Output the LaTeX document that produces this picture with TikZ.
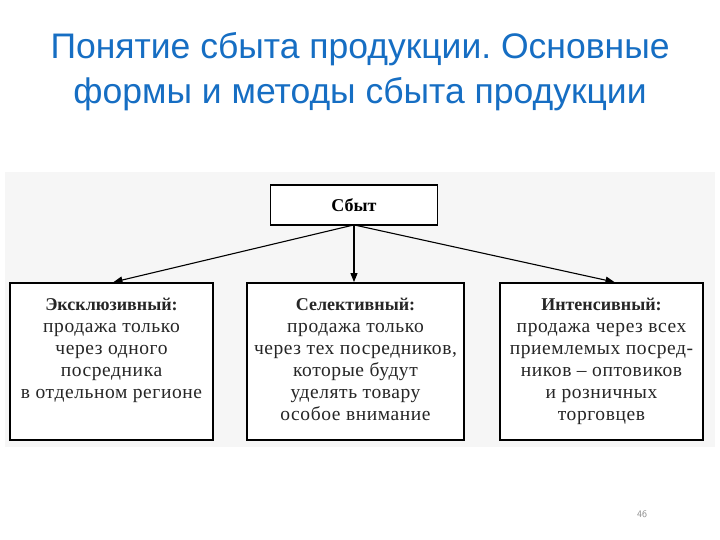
\documentclass[tikz,border=0pt]{standalone}
\usepackage{fontspec}
\setmainfont{Liberation Serif}
\newfontfamily\titlefont{Liberation Sans}
\newfontfamily\bodyfont[LetterSpace=3]{Liberation Serif}
\usetikzlibrary{arrows.meta}
\definecolor{titleblue}{RGB}{22,110,195}
\definecolor{scanbg}{RGB}{246,246,246}
\frenchspacing
\newcommand{\hd}[1]{{\rmfamily\bfseries\fontsize{18}{22}\selectfont #1}}
\tikzset{
  box/.style={draw=black, line width=1.8pt, fill=white, inner sep=0pt},
  body/.style={align=center, font=\bodyfont\fontsize{19.5}{22}\selectfont, text=black!85},
  conn/.style={line width=1.1pt, -{Triangle[length=9pt,width=7pt]}},
}
\begin{document}
\begin{tikzpicture}[x=1pt,y=-1pt]
\useasboundingbox (0,0) rectangle (720,540);
\fill[white] (0,0) rectangle (720,540);
\fill[scanbg] (5,172) rectangle (715,447);
% title
\node[text=titleblue, font=\titlefont\fontsize{35.5}{45}\selectfont, align=center] (title) at (360,72)
  {Понятие сбыта продукции. Основные\\формы и методы сбыта продукции};
% boxes
\node[box, minimum width=167pt, minimum height=40pt] (top) at (354,205) {};
\node[font=\bfseries\fontsize{18}{22}\selectfont] (toptxt) at (top.center) {Сбыт};
\node[box, minimum width=203pt, minimum height=157pt] (left) at (111.5,361.5) {};
\node[box, minimum width=217pt, minimum height=157pt] (mid) at (355.5,361.5) {};
\node[box, minimum width=203pt, minimum height=157pt] (right) at (601.5,361.5) {};
\node[body, anchor=north] (lt) at (111.5,295) {\hd{Эксклюзивный:}\\продажа только\\через одного\\посредника\\в отдельном регионе};
\node[body, anchor=north] (mt) at (355.5,295) {\hd{Селективный:}\\продажа только\\через тех посредников,\\которые будут\\уделять товару\\особое внимание};
\node[body, anchor=north] (rt) at (601.5,295) {\hd{Интенсивный:}\\продажа через всех\\приемлемых посред-\\ников – оптовиков\\и розничных\\торговцев};
% connectors
\coordinate (o) at ([yshift=1pt]top.south);
\draw[conn] (o) -- ([xshift=2pt]left.north);
\draw[conn] (o) -- (mid.north -| o);
\draw[conn] (o) -- ([xshift=13pt]right.north);
% page number
\node[text=black!45, font=\sffamily\fontsize{10}{12}\selectfont] (pg) at (642,514) {46};
\end{tikzpicture}
\end{document}
